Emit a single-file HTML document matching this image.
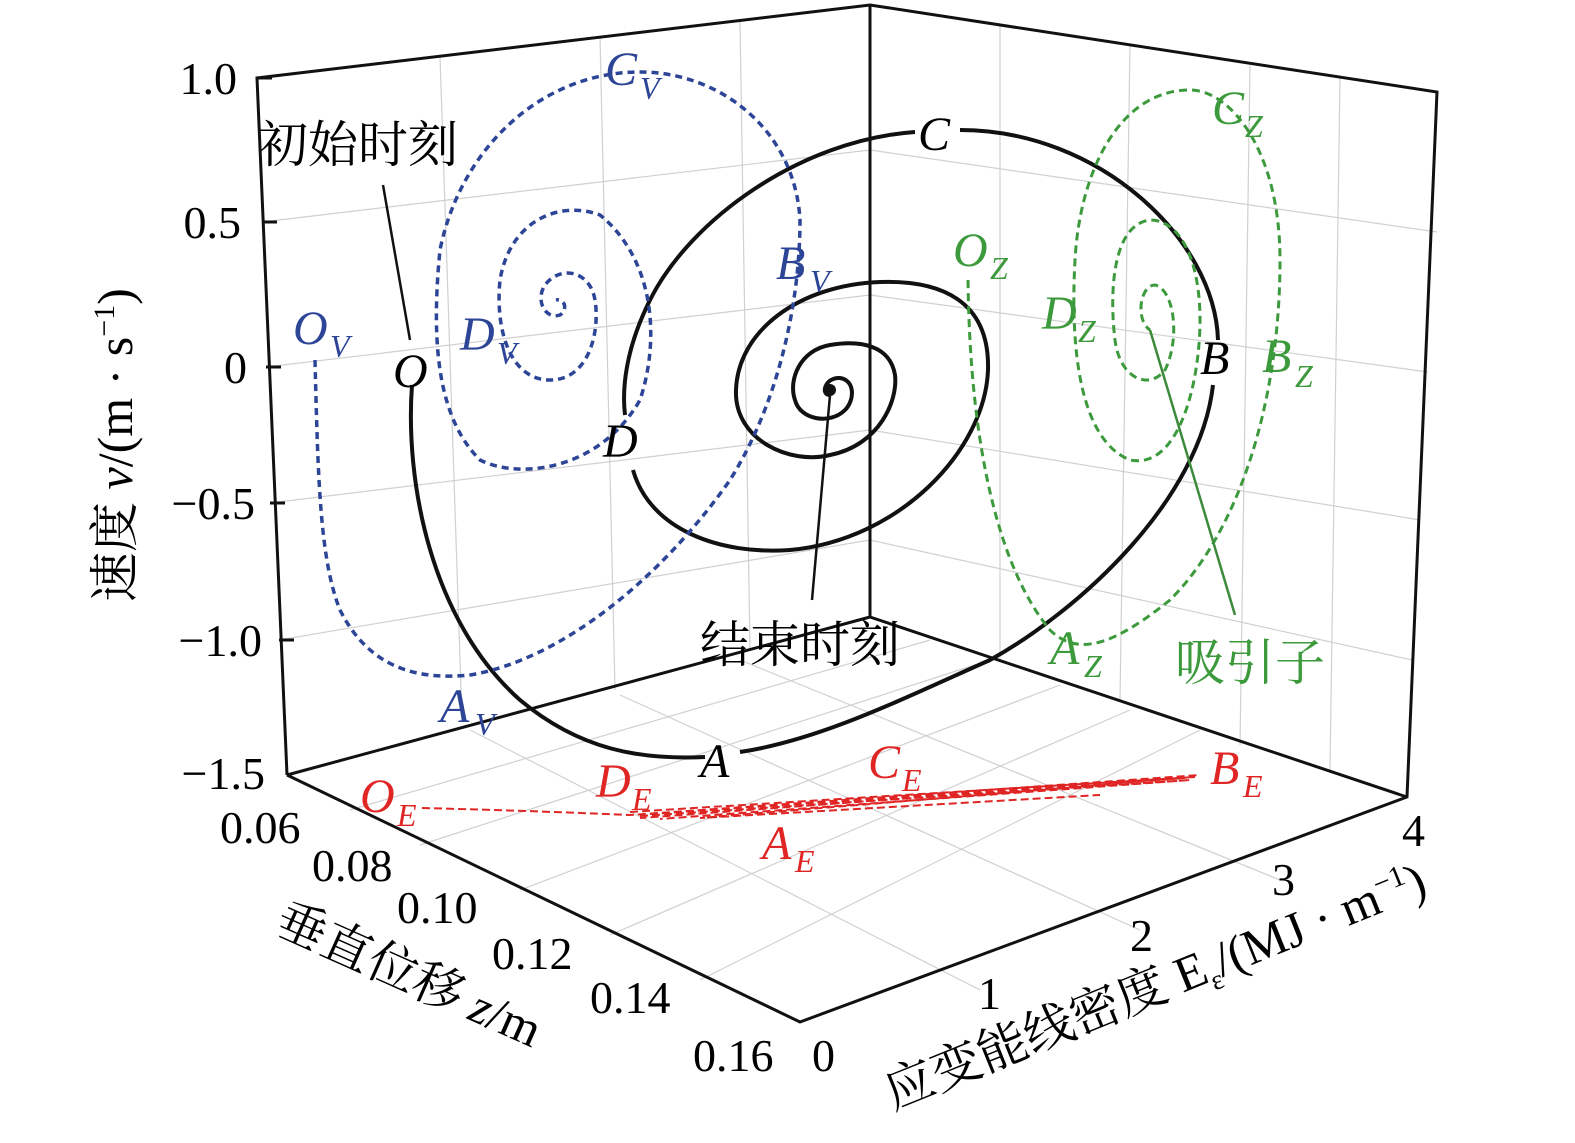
<!DOCTYPE html>
<html><head><meta charset="utf-8"><style>
body{margin:0;background:#fff}
svg{display:block}
.l{font-family:"Liberation Serif",serif;font-style:italic;font-size:48px}
.s{font-family:"Liberation Serif",serif;font-style:italic;font-size:32px}
.t{font-family:"Liberation Serif",serif;font-size:46px}
.c{font-family:"Liberation Serif","Noto Serif CJK SC","Noto Sans CJK SC",serif;font-size:50px}
</style></head><body>
<svg width="1575" height="1143" viewBox="0 0 1575 1143" xmlns="http://www.w3.org/2000/svg">
<g stroke="#d0d0d0" stroke-width="1.2" fill="none">
<line x1="262" y1="222" x2="870" y2="150"/>
<line x1="266" y1="367" x2="870" y2="295"/>
<line x1="270" y1="503" x2="870" y2="430"/>
<line x1="279" y1="640" x2="870" y2="540"/>
<line x1="870" y1="150" x2="1437" y2="232"/>
<line x1="870" y1="295" x2="1428" y2="372"/>
<line x1="870" y1="430" x2="1420" y2="520"/>
<line x1="870" y1="540" x2="1412" y2="660"/>
<line x1="440" y1="56" x2="462" y2="720"/>
<line x1="600" y1="37" x2="615" y2="690"/>
<line x1="740" y1="20" x2="750" y2="650"/>
<line x1="1000" y1="25" x2="1000" y2="660"/>
<line x1="1130" y1="45" x2="1120" y2="700"/>
<line x1="1250" y1="65" x2="1240" y2="745"/>
<line x1="1340" y1="78" x2="1330" y2="770"/>
<line x1="350" y1="810" x2="930" y2="640"/>
<line x1="420" y1="845" x2="990" y2="660"/>
<line x1="520" y1="890" x2="1060" y2="685"/>
<line x1="610" y1="935" x2="1130" y2="710"/>
<line x1="700" y1="980" x2="1200" y2="730"/>
<line x1="470" y1="730" x2="980" y2="990"/>
<line x1="620" y1="695" x2="1140" y2="930"/>
<line x1="740" y1="660" x2="1280" y2="880"/>
</g>
<g stroke="#111" stroke-width="3" fill="none">
<polyline points="287,775 257,78 870,5 1437,92 1407,797 800,1022 287,775"/>
<line x1="870" y1="5" x2="870" y2="617"/>
<line x1="287" y1="775" x2="870" y2="617"/>
<line x1="870" y1="617" x2="1407" y2="797"/>
<line x1="257" y1="78" x2="272" y2="78"/><line x1="262" y1="222" x2="277" y2="222"/>
<line x1="266" y1="367" x2="281" y2="367"/><line x1="270" y1="503" x2="285" y2="503"/>
<line x1="279" y1="640" x2="294" y2="640"/>
</g>
<path fill="none" stroke="#111" stroke-width="4" d="M412,385 C405,480 430,620 520,700 C580,750 640,760 705,757 M740,752 C820,740 900,700 990,660 C1080,610 1200,500 1213,385 M1218,340 C1215,240 1100,130 960,130 M915,132 C800,140 690,220 650,300 C625,350 622,390 625,415 M633,470 C650,530 720,555 790,550 C900,540 985,450 988,370 C990,300 940,280 880,282 C800,285 738,330 736,390 C734,440 790,465 830,455 C880,445 898,400 895,375 C890,345 860,340 830,345 C800,350 788,380 795,400 C800,420 830,425 845,410 C855,400 855,380 840,378 C825,377 820,395 830,395"/>
<circle cx="830" cy="390" r="6" fill="#111"/>
<path fill="none" stroke="#2d4597" stroke-width="3.5" stroke-dasharray="7,5" d="M315,360 C318,480 320,560 340,610 C370,670 420,680 470,675 C560,660 660,580 730,480 C780,400 800,300 800,220 C795,130 720,72 640,72 C540,72 460,150 440,250 C430,350 440,420 480,460 C520,480 600,470 640,400 C660,340 655,260 600,215 C560,200 510,220 500,280 C495,330 510,380 550,380 C590,380 600,330 595,300 C590,270 560,265 545,285 C535,300 545,320 560,315 C568,310 565,298 556,300"/>
<path fill="none" stroke="#3c9a3c" stroke-width="3" stroke-dasharray="8,5" d="M968,280 C970,450 1000,570 1050,630 C1080,660 1120,640 1170,600 C1240,530 1280,400 1280,260 C1280,150 1230,90 1190,90 C1120,90 1080,170 1075,260 C1070,350 1080,440 1130,460 C1180,470 1200,380 1200,320 C1200,260 1180,220 1150,220 C1110,225 1110,300 1115,340 C1120,380 1150,390 1165,370 C1180,340 1175,290 1155,285 C1140,285 1135,320 1150,330"/>
<g fill="none" stroke="#e02525" stroke-width="2" stroke-dasharray="8,4">
<path d="M422,808 C500,810 560,812 630,815 L1200,775"/>
<path d="M630,812 L1195,777 L640,818"/>
<path d="M640,816 L1190,780 L660,819"/>
<path d="M650,814 L1185,778 L700,818 L1100,795"/>
</g>
<line x1="383" y1="185" x2="410" y2="340" stroke="#111" stroke-width="2.5"/>
<line x1="812" y1="600" x2="830" y2="395" stroke="#111" stroke-width="2.5"/>
<line x1="1235" y1="615" x2="1150" y2="330" stroke="#3c8a3c" stroke-width="2.5"/>
<text class="l" x="393" y="387">O</text>
<text class="l" x="603" y="457">D</text>
<text class="l" x="918" y="150">C</text>
<text class="l" x="1200" y="374">B</text>
<text class="l" x="700" y="777">A</text>
<g fill="#2d4597">
<text class="l" x="293" y="344">O</text><text class="s" x="330" y="357">V</text>
<text class="l" x="460" y="350">D</text><text class="s" x="497" y="364">V</text>
<text class="l" x="605" y="85">C</text><text class="s" x="640" y="99">V</text>
<text class="l" x="776" y="279">B</text><text class="s" x="810" y="292">V</text>
<text class="l" x="440" y="722">A</text><text class="s" x="475" y="735">V</text>
</g>
<g fill="#3c9a3c">
<text class="l" x="953" y="266">O</text><text class="s" x="990" y="279">Z</text>
<text class="l" x="1042" y="329">D</text><text class="s" x="1078" y="342">Z</text>
<text class="l" x="1212" y="124">C</text><text class="s" x="1245" y="137">Z</text>
<text class="l" x="1262" y="372">B</text><text class="s" x="1295" y="387">Z</text>
<text class="l" x="1050" y="664">A</text><text class="s" x="1084" y="677">Z</text>
<text class="c" x="1175" y="680">吸引子</text>
</g>
<g fill="#e02525">
<text class="l" x="360" y="812">O</text><text class="s" x="397" y="826">E</text>
<text class="l" x="596" y="797">D</text><text class="s" x="632" y="810">E</text>
<text class="l" x="868" y="778">C</text><text class="s" x="902" y="791">E</text>
<text class="l" x="1210" y="784">B</text><text class="s" x="1243" y="797">E</text>
<text class="l" x="762" y="859">A</text><text class="s" x="795" y="872">E</text>
</g>
<text class="c" x="258" y="162">初始时刻</text>
<text class="c" x="700" y="662">结束时刻</text>
<g class="t" text-anchor="end">
<text x="237" y="94">1.0</text><text x="241" y="238">0.5</text>
<text x="247" y="383">0</text><text x="255" y="519">−0.5</text>
<text x="262" y="656">−1.0</text><text x="265" y="789">−1.5</text>
</g>
<g class="t">
<text x="220" y="843">0.06</text><text x="312" y="881">0.08</text>
<text x="397" y="923">0.10</text><text x="492" y="969">0.12</text>
<text x="590" y="1013">0.14</text><text x="693" y="1071">0.16</text>
<text x="812" y="1071">0</text><text x="978" y="1009">1</text>
<text x="1130" y="951">2</text><text x="1272" y="895">3</text><text x="1402" y="846">4</text>
</g>
<text class="c" transform="translate(132,602) rotate(-90)">速度 <tspan font-style="italic">v</tspan>/(m · s<tspan font-size="30" dy="-18">−1</tspan><tspan dy="18">)</tspan></text>
<text class="c" transform="translate(272,932) rotate(24)">垂直位移 <tspan font-style="italic">z</tspan>/m</text>
<text class="c" transform="translate(893,1110) rotate(-22)">应变能线密度 E<tspan font-size="28" dy="10">ε</tspan><tspan dy="-10">/(MJ · m</tspan><tspan font-size="30" dy="-18">−1</tspan><tspan dy="18">)</tspan></text>
</svg>
</body></html>
